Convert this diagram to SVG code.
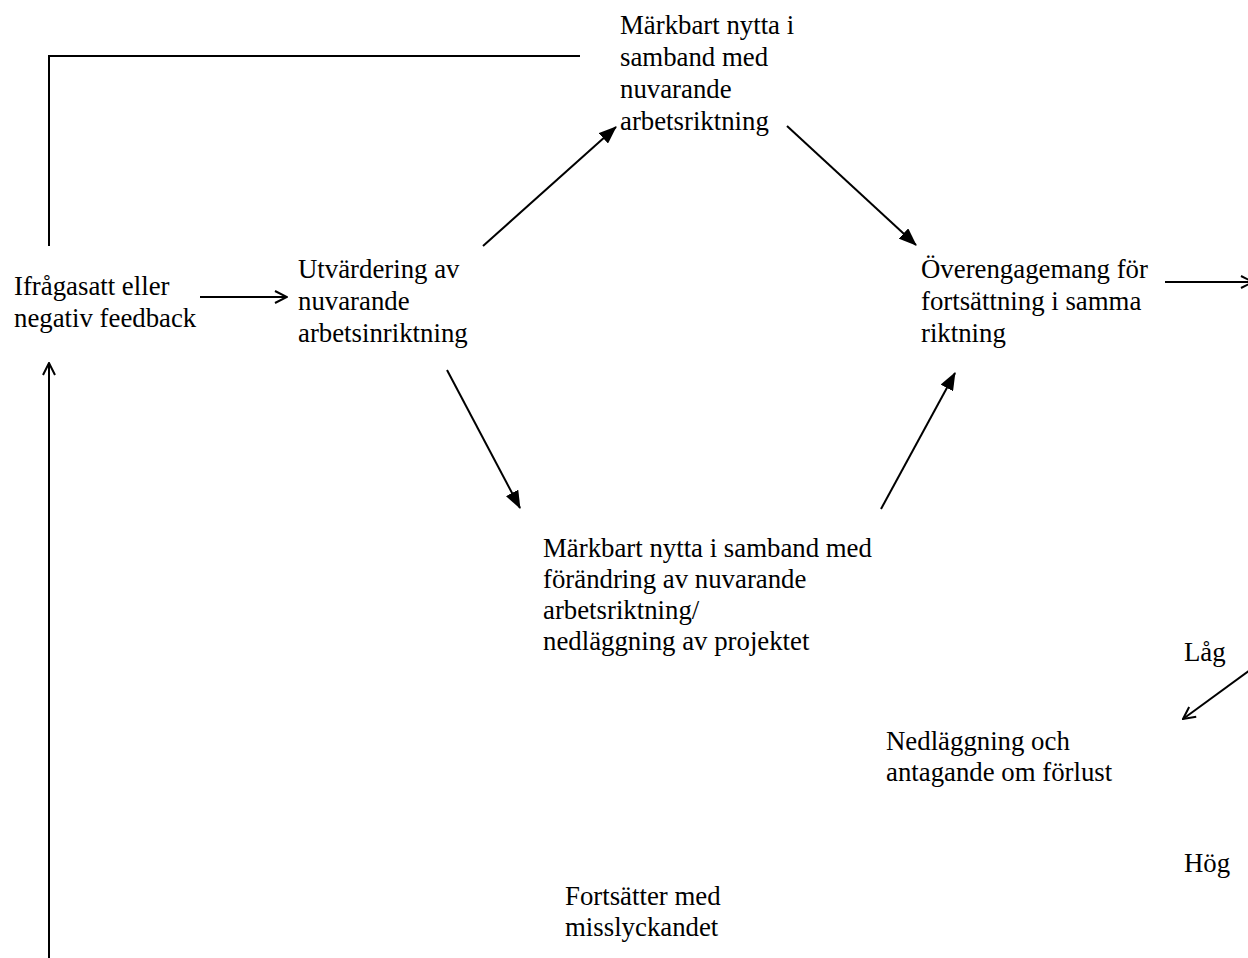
<svg xmlns="http://www.w3.org/2000/svg" width="1248" height="958" viewBox="0 0 1248 958">
<style>
text{font-family:"Liberation Serif","Times New Roman",serif;font-size:26.8px;fill:#000}
.ln{stroke:#000;stroke-width:2;fill:none}
</style>
<defs>
<marker id="fill" viewBox="0 0 18 14" refX="17" refY="7" markerWidth="18" markerHeight="14" markerUnits="userSpaceOnUse" orient="auto">
<path d="M0,0 L18,7 L0,14 Z" fill="#000"/>
</marker>
<marker id="open" viewBox="0 0 14 14" refX="13" refY="7" markerWidth="14" markerHeight="14" markerUnits="userSpaceOnUse" orient="auto">
<path d="M1,1 L13,7 L1,13" fill="none" stroke="#000" stroke-width="2"/>
</marker>
</defs>
<rect width="1248" height="958" fill="#fff"/>
<g id="connectors">
<polyline class="ln" points="49,246 49,56 580,56"/>
<line class="ln" x1="49" y1="958" x2="49" y2="363" marker-end="url(#open)"/>
<line class="ln" x1="200" y1="297" x2="287" y2="297" marker-end="url(#open)"/>
<line class="ln" x1="483" y1="246" x2="616" y2="127" marker-end="url(#fill)"/>
<line class="ln" x1="787" y1="126" x2="916" y2="245" marker-end="url(#fill)"/>
<line class="ln" x1="447" y1="370" x2="520" y2="508" marker-end="url(#fill)"/>
<line class="ln" x1="881" y1="509" x2="955" y2="373" marker-end="url(#fill)"/>
<line class="ln" x1="1165" y1="282" x2="1253" y2="282" marker-end="url(#open)"/>
<line class="ln" x1="1250" y1="670" x2="1183" y2="719" marker-end="url(#open)"/>
</g>
<g id="node-feedback"><text x="14" y="295">Ifrågasatt eller</text><text x="14" y="327">negativ feedback</text></g>
<g id="node-utvardering"><text x="298" y="278">Utvärdering av</text><text x="298" y="310">nuvarande</text><text x="298" y="342">arbetsinriktning</text></g>
<g id="node-nytta-top"><text x="620" y="34">Märkbart nytta i</text><text x="620" y="66">samband med</text><text x="620" y="98">nuvarande</text><text x="620" y="130">arbetsriktning</text></g>
<g id="node-overengagemang"><text x="921" y="278">Överengagemang för</text><text x="921" y="310">fortsättning i samma</text><text x="921" y="342">riktning</text></g>
<g id="node-nytta-bottom"><text x="543" y="557">Märkbart nytta i samband med</text><text x="543" y="588">förändring av nuvarande</text><text x="543" y="619">arbetsriktning/</text><text x="543" y="650">nedläggning av projektet</text></g>
<g id="label-lag"><text x="1184" y="661">Låg</text></g>
<g id="node-nedlaggning"><text x="886" y="750">Nedläggning och</text><text x="886" y="781">antagande om förlust</text></g>
<g id="label-hog"><text x="1184" y="872">Hög</text></g>
<g id="node-fortsatter"><text x="565" y="905">Fortsätter med</text><text x="565" y="936">misslyckandet</text></g>
</svg>
